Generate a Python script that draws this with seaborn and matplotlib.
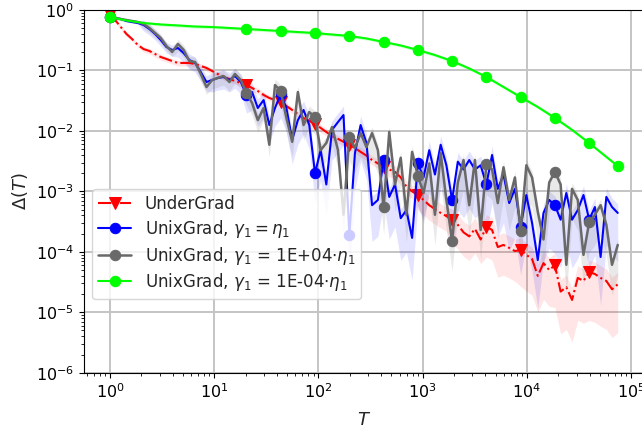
import numpy as np
import matplotlib
matplotlib.use("Agg")
import matplotlib.pyplot as plt
import seaborn as sns

sns.set_style("ticks")

# iteration grid shared by the noisy curves
T = [1, 1.12, 1.27, 1.44, 1.63, 1.85, 2.10, 2.39, 2.71, 3.07,
     3.48, 3.95, 4.49, 5.09, 5.77, 6.55, 7.43, 8.43, 9.56, 10.8,
     12.3, 14.0, 15.8, 18.0, 20.4, 23.1, 26.2, 29.8, 33.8, 38.3,
     43.5, 49.3, 56.0, 63.5, 72.0, 81.7, 92.7, 105, 119, 135,
     154, 174, 198, 224, 254, 289, 327, 372, 422, 478,
     543, 616, 698, 792, 899, 1020, 1157, 1312, 1489, 1689,
     1916, 2174, 2466, 2798, 3174, 3601, 4086, 4635, 5259, 5966,
     6768, 7679, 8712, 9883, 11212, 12720, 14431, 16372, 18574, 21072,
     23906, 27122, 30769, 34908, 39603, 44929, 50972, 57828, 65605, 74428]

undergrad = [0.859, 0.683, 0.523, 0.401, 0.331, 0.264,
             0.226, 0.210, 0.187, 0.167, 0.155, 0.143,
             0.133, 0.133, 0.133, 0.128, 0.1185, 0.110,
             0.0979, 0.0874, 0.0779, 0.0722, 0.0669, 0.0620,
             0.0574, 0.0512, 0.0457, 0.0393, 0.0350, 0.0324,
             0.0301, 0.0258, 0.0222, 0.0190, 0.0163, 0.0146,
             0.0130, 0.0112, 0.0096, 0.0082, 0.0074, 0.0066,
             0.0059, 0.0052, 0.0045, 0.0039, 0.0033, 0.0029,
             0.0025, 0.0023, 0.0021, 0.0017, 0.0012, 0.0010,
             8.7e-4, 7.2e-4, 5.9e-4, 5.1e-4, 4.4e-4, 3.9e-4,
             3.4e-4, 2.8e-4, 2.1e-4, 1.8e-4, 2.4e-4, 1.6e-4,
             2.6e-4, 2.3e-4, 1.2e-4, 1.3e-4, 1.16e-4, 1.03e-4,
             1.07e-4, 8.9e-5, 7.6e-5, 4.0e-5, 6.5e-5, 5.0e-5,
             6.0e-5, 2.2e-5, 2.6e-5, 1.6e-5, 3.7e-5, 3.3e-5,
             4.6e-5, 4.3e-5, 3.7e-5, 3.3e-5, 2.4e-5, 2.9e-5]

unix_eq = [0.766, 0.737, 0.710, 0.658, 0.633, 0.610,
           0.565, 0.485, 0.401, 0.319, 0.244, 0.218,
           0.235, 0.194, 0.149, 0.133, 0.0943, 0.0644,
           0.0695, 0.0750, 0.0779, 0.0695, 0.0809, 0.0644,
           0.0393, 0.0440, 0.0239, 0.0324, 0.0125, 0.0239,
           0.0408, 0.0239, 0.0071, 0.0151, 0.0222, 0.0125,
           0.0020, 0.0048, 0.0013, 0.0104, 0.0140, 0.0183,
           1.9e-4, 0.0043, 0.0125, 0.0063, 5.9e-4, 7.2e-4,
           0.0033, 8.1e-4, 0.0013, 3.6e-4, 4.9e-4, 1.7e-4,
           0.0029, 0.0017, 0.0048, 0.0019, 0.0059, 0.0027,
           7.2e-4, 0.0031, 0.0023, 0.0033, 0.0023, 0.0027,
           0.0013, 0.0040, 0.0011, 0.0019, 6.4e-4, 0.0011,
           2.6e-4, 8.7e-4, 3.0e-4, 7.3e-5, 4.4e-4, 7.2e-4,
           5.9e-4, 3.4e-4, 9.4e-4, 3.4e-4, 4.9e-4, 8.7e-4,
           3.4e-4, 5.5e-4, 8.2e-5, 8.1e-4, 5.5e-4, 4.4e-4]

unix_big = [0.766, 0.737, 0.710, 0.683, 0.658, 0.633,
            0.587, 0.504, 0.416, 0.344, 0.254, 0.202,
            0.274, 0.218, 0.143, 0.138, 0.0874, 0.0532,
            0.0695, 0.0750, 0.0809, 0.0644, 0.0874, 0.0695,
            0.0423, 0.0289, 0.0151, 0.0239, 0.0059, 0.0574,
            0.0457, 0.0163, 0.0066, 0.0440, 0.0125, 0.0205,
            0.0170, 0.0048, 0.0063, 0.0116, 0.0048, 4.1e-4,
            0.0079, 0.0052, 0.0092, 0.0054, 0.0092, 0.0048,
            5.5e-4, 0.0096, 0.0013, 0.0036, 4.1e-4, 0.0045,
            0.0018, 9.4e-4, 0.0029, 4.1e-4, 0.0043, 7.2e-4,
            1.5e-4, 0.0014, 0.0033, 5.9e-4, 0.0033, 2.3e-4,
            0.0028, 0.0023, 6.4e-4, 0.0025, 7.2e-4, 0.0017,
            2.2e-4, 0.0027, 0.0017, 4.6e-4, 1.6e-4, 0.0014,
            0.0021, 0.0013, 6.1e-5, 0.0011, 7.2e-4, 8.9e-5,
            3.1e-4, 4.1e-4, 5.9e-4, 2.8e-4, 6.1e-5, 1.3e-4]

# the small-gamma run is smooth, so it is stored on a sparser grid
T_small = [1, 1.44, 2.10, 3.07, 4.49, 6.55, 9.56, 14.0, 20.4, 29.8,
           43.5, 63.5, 92.7, 135, 198, 289, 422, 616, 899, 1312,
           1916, 2798, 4086, 5966, 8712, 12720, 18574, 27122, 39603, 57828,
           74428]
unix_small = [0.766, 0.67, 0.61, 0.576, 0.555, 0.533, 0.523, 0.504, 0.485, 0.467,
              0.449, 0.432, 0.416, 0.393, 0.372, 0.338, 0.296, 0.259, 0.218, 0.180,
              0.143, 0.108, 0.0781, 0.0533, 0.0363, 0.0249, 0.0164, 0.0104, 0.00631, 0.00372,
              0.00263]

# spread of the runs (decades below / above the mean), one value per block of 6 points
red_dn = [0.04, 0.05, 0.05, 0.05, 0.05, 0.06, 0.07, 0.08, 0.12, 0.25, 0.4, 0.5, 0.6, 0.7, 0.8]
red_up = [0.03, 0.04, 0.04, 0.04, 0.05, 0.05, 0.06, 0.07, 0.10, 0.15, 0.18, 0.2, 0.2, 0.2, 0.2]
blue_dn = [0.02, 0.10, 0.15, 0.20, 0.30, 0.40, 0.50, 0.60, 0.70, 0.70, 0.80, 0.80, 0.80, 0.80, 0.80]
blue_up = [0.02, 0.08, 0.10, 0.12, 0.15, 0.15, 0.15, 0.15, 0.15, 0.15, 0.15, 0.15, 0.15, 0.15, 0.15]
gray_dn = [0.02, 0.08, 0.12, 0.15, 0.20, 0.25, 0.30, 0.40, 0.45, 0.50, 0.50, 0.50, 0.50, 0.50, 0.50]
gray_up = [0.02, 0.06, 0.08, 0.10, 0.10, 0.10, 0.10, 0.10, 0.10, 0.10, 0.10, 0.10, 0.10, 0.10, 0.10]

marks = [0] + list(range(24, 90, 6))
marks_small = [0] + list(range(8, 31, 2))

fig = plt.figure(figsize=(6.42, 4.37), dpi=100)
ax = fig.add_axes([0.1308, 0.1471, 0.874, 0.830])
ax.set_xscale("log")
ax.set_yscale("log")


def band(y, dn, up, color, alpha):
    y = np.asarray(y)
    dn = np.repeat(dn, 6)[:len(y)]
    up = np.repeat(up, 6)[:len(y)]
    ax.fill_between(T, y / 10 ** dn, y * 10 ** up, color=color, alpha=alpha, lw=0)


band(undergrad, red_dn, red_up, "red", 0.10)
band(unix_eq, blue_dn, blue_up, "blue", 0.11)
band(unix_big, gray_dn, gray_up, "dimgray", 0.14)
ys = np.asarray(unix_small)
ax.fill_between(T_small, ys / 1.06, ys * 1.06, color="lime", alpha=0.2, lw=0)

sns.lineplot(x=T, y=undergrad, ax=ax, color="red", linestyle="-.", lw=1.5,
             marker="v", markersize=8, markevery=marks, markeredgecolor="red",
             label="UnderGrad")
sns.lineplot(x=T, y=unix_eq, ax=ax, color="blue", lw=1.5,
             marker="o", markersize=7.5, markevery=marks, markeredgecolor="blue",
             label=r"UnixGrad, $\gamma_1 = \eta_1$")
sns.lineplot(x=T, y=unix_big, ax=ax, color="dimgray", lw=1.8,
             marker="o", markersize=7.5, markevery=marks, markeredgecolor="dimgray",
             label=r"UnixGrad, $\gamma_1$ = 1E+04$\cdot\eta_1$")
sns.lineplot(x=T_small, y=unix_small, ax=ax, color="lime", lw=1.5,
             marker="o", markersize=7.5, markevery=marks_small, markeredgecolor="lime",
             label=r"UnixGrad, $\gamma_1$ = 1E-04$\cdot\eta_1$")

ax.set_xlim(10 ** -0.2495, 10 ** 5.134)
ax.set_ylim(1e-6, 1)
ax.grid(True, which="major", color="#c4c4c4", lw=1.4)
ax.set_axisbelow(True)
for s in ax.spines.values():
    s.set_color("black")
ax.tick_params(which="both", colors="black", labelsize=11.5)
ax.set_xlabel(r"$T$", fontsize=13, labelpad=7)
ax.set_ylabel(r"$\Delta(T)$", fontsize=13)
ax.legend(loc="lower left", bbox_to_anchor=(0.0, 0.18), fontsize=12,
          frameon=True, labelspacing=0.28, borderpad=0.35)

fig.savefig("out.png", dpi=100)
